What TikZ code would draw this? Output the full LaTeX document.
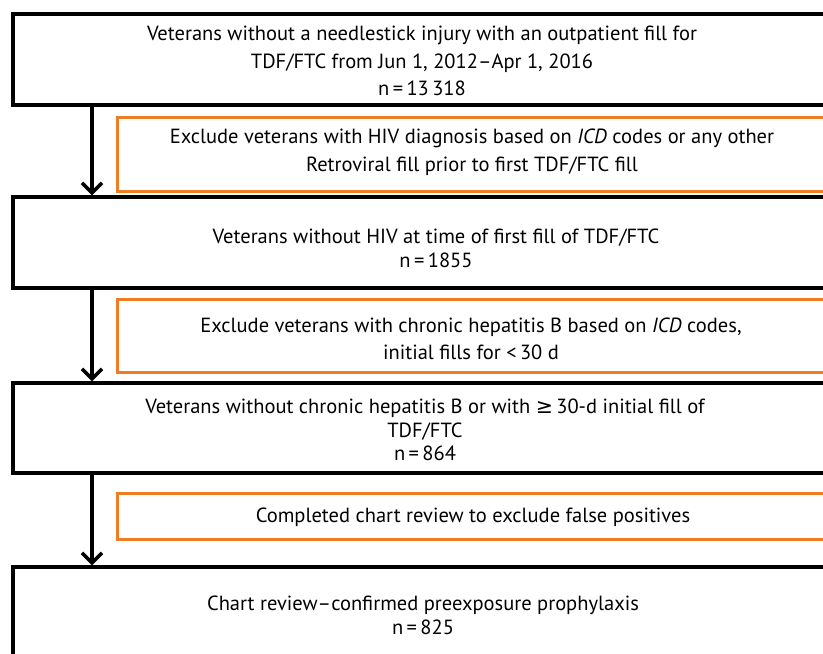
\documentclass[tikz,border=0pt]{standalone}
\usepackage{fontspec}
\setmainfont{PT Sans}
\newfontfamily\symfont{DejaVu Sans}
\usetikzlibrary{arrows.meta}
\definecolor{boxorange}{RGB}{240,125,35}
\tikzset{
  blackbox/.style={draw=black, line width=3.5pt, fill=white, inner sep=0pt},
  orangebox/.style={draw=boxorange, line width=3pt, fill=white, inner sep=0pt},
  txt/.style={align=center, font=\fontsize{20.5}{27.5}\selectfont, inner sep=0pt},
  flow/.style={draw=black, line width=3.5pt, -{Straight Barb[length=10pt,width=20pt]}}
}
\begin{document}
\begin{tikzpicture}[x=1pt,y=-1pt]
\useasboundingbox (0,0) rectangle (823,654);
\begin{scope}
\clip (0,0) rectangle (823,654);
\fill[white] (0,0) rectangle (823,654);
\node[blackbox, minimum width=820pt, minimum height=91pt] (b1) at (423,59.5) {};
\node[orangebox, minimum width=710pt, minimum height=74pt] (o1) at (472,154) {};
\node[blackbox, minimum width=842pt, minimum height=91pt] (b2) at (434,242.5) {};
\node[orangebox, minimum width=710pt, minimum height=73pt] (o2) at (472,335.5) {};
\node[blackbox, minimum width=822pt, minimum height=90pt] (b3) at (424,428) {};
\node[orangebox, minimum width=710pt, minimum height=46pt] (o3) at (472,516) {};
\node[blackbox, minimum width=820pt, minimum height=123pt] (b4) at (423,628.5) {};
\coordinate (ax) at (92,0);
\draw[flow] (b1.south -| ax) -- (b2.north -| ax);
\draw[flow] (b2.south -| ax) -- (b3.north -| ax);
\draw[flow] (b3.south -| ax) -- (b4.north -| ax);

\node[txt] (t1) at (422,61) {Veterans without a needlestick injury with an outpatient fill for\\TDF/FTC from Jun 1, 2012–Apr 1, 2016\\n\,=\,13\,318};
\node[txt] (to1) at (472,152) {Exclude veterans with HIV diagnosis based on \textit{ICD} codes or any other\\Retroviral fill prior to first TDF/FTC fill};
\node[txt, font=\fontsize{20.5}{24}\selectfont] (t2) at (436,248) {Veterans without HIV at time of first fill of TDF/FTC\\n\,=\,1855};
\node[txt, font=\fontsize{20.5}{27}\selectfont] (to2) at (471,338.5) {Exclude veterans with chronic hepatitis B based on \textit{ICD} codes,\\initial fills for <\,30 d};
\node[txt, font=\fontsize{20.5}{23.5}\selectfont] (t3) at (425,430) {Veterans without chronic hepatitis B or with {\symfont ≥}\,30-d initial fill of\\TDF/FTC\\n\,=\,864};
\node[txt] (to3) at (473,517) {Completed chart review to exclude false positives};
\node[txt, font=\fontsize{20.5}{24}\selectfont] (t4) at (423,615) {Chart review–confirmed preexposure prophylaxis\\n\,=\,825};
\end{scope}
\end{tikzpicture}
\end{document}
